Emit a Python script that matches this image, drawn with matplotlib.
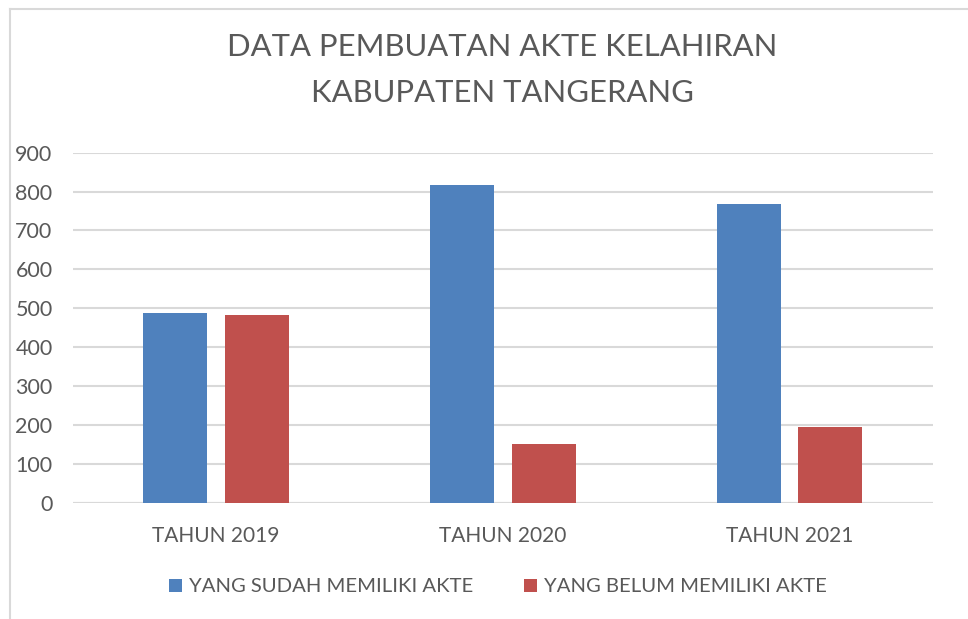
import matplotlib
matplotlib.use("Agg")
import matplotlib.pyplot as plt
from matplotlib.lines import Line2D
from matplotlib.patches import Patch
import numpy as np

categories = ["TAHUN 2019", "TAHUN 2020", "TAHUN 2021"]
sudah = [487, 818, 767]
belum = [482, 151, 195]
series_names = ["YANG SUDAH MEMILIKI AKTE", "YANG BELUM MEMILIKI AKTE"]
yticks = [0, 100, 200, 300, 400, 500, 600, 700, 800, 900]
title_lines = ["DATA PEMBUATAN AKTE KELAHIRAN", "KABUPATEN TANGERANG"]

BLUE = "#4F81BD"
RED = "#C0504D"
TXT = "#595959"
GRID = "#D9D9D9"

plt.rcParams['font.family'] = ['Lato', 'DejaVu Sans']

W, H = 968, 619
fig = plt.figure(figsize=(W / 100, H / 100), dpi=100)
ax = fig.add_axes([72.7 / W, 1 - 502.7 / H, (933 - 72.7) / W, 350 / H])

x = np.arange(len(categories))
bw = 0.223
off = 0.142
ax.bar(x - off, sudah, bw, color=BLUE, zorder=3)
ax.bar(x + off, belum, bw, color=RED, zorder=3)

ax.set_xlim(-0.5, 2.5)
ax.set_ylim(0, 900)
ax.set_yticks(yticks)
ax.set_yticklabels([str(v) for v in yticks])
ax.set_xticks(x)
ax.set_xticklabels(categories)
ax.yaxis.grid(True, color=GRID, linewidth=1.5, zorder=0)
ax.set_axisbelow(True)
for s in ax.spines.values():
    s.set_visible(False)
ax.axhline(0, color=GRID, linewidth=1.5, zorder=2)
ax.tick_params(axis='y', length=0, pad=14.5, labelsize=15.5, labelcolor=TXT)
ax.tick_params(axis='x', length=0, pad=17, labelsize=15, labelcolor=TXT)

fig.text(502 / W, 1 - 47 / H, title_lines[0], ha='center', va='center', fontsize=22.3, color=TXT)
fig.text(502 / W, 1 - 93 / H, title_lines[1], ha='center', va='center', fontsize=22.3, color=TXT)

handles = [Patch(facecolor=BLUE, edgecolor='none'), Patch(facecolor=RED, edgecolor='none')]
fig.legend(handles, series_names, loc='center', bbox_to_anchor=(498 / W, 1 - 587 / H),
           ncol=2, frameon=False, fontsize=14.6, labelcolor=TXT,
           handlelength=0.62, handleheight=0.62, handletextpad=0.35, columnspacing=2.5)

# chart frame (partially visible)
fig.add_artist(Line2D([10 / W, 1], [1 - 9 / H, 1 - 9 / H], color=GRID, linewidth=1.5))
fig.add_artist(Line2D([10 / W, 10 / W], [0, 1 - 9 / H], color=GRID, linewidth=1.5))

fig.savefig("out.png", dpi=100)
